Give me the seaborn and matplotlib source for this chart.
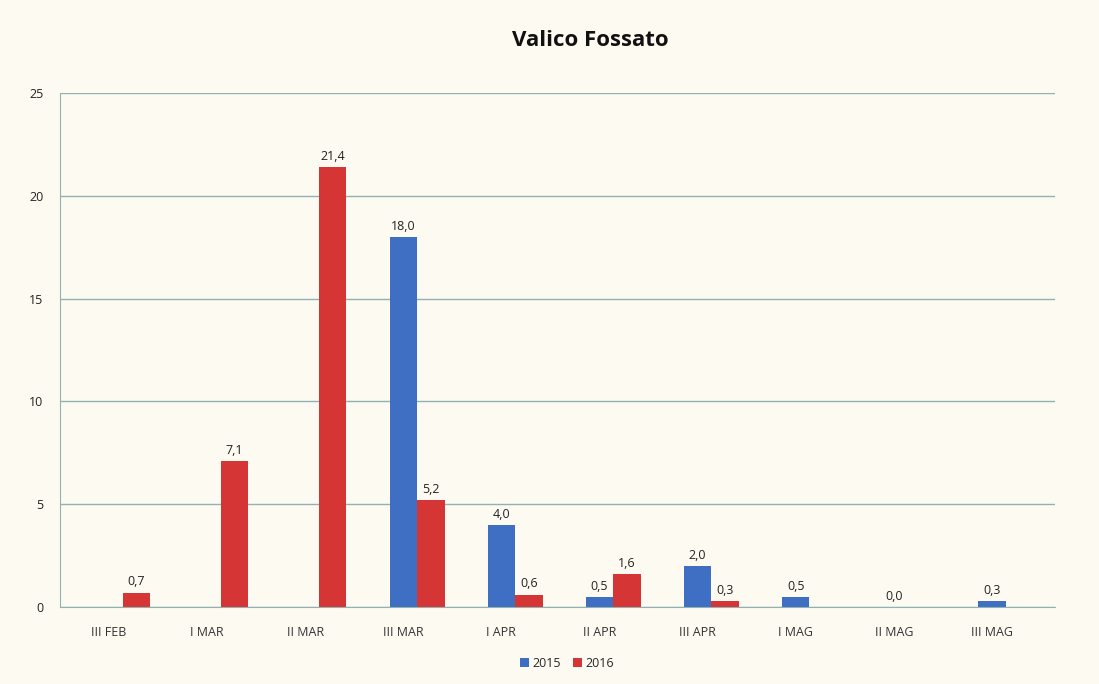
import numpy as np
import pandas as pd
import matplotlib.pyplot as plt
import seaborn as sns

# values
periods = ["III FEB", "I MAR", "II MAR", "III MAR", "I APR",
           "II APR", "III APR", "I MAG", "II MAG", "III MAG"]
v2015 = [np.nan, np.nan, np.nan, 18.0, 4.0, 0.5, 2.0, 0.5, 0.0, 0.3]
v2016 = [0.7, 7.1, 21.4, 5.2, 0.6, 1.6, 0.3, np.nan, np.nan, np.nan]
years = ["2015", "2016"]

df = pd.DataFrame({
    "periodo": periods * 2,
    "anno": [years[0]] * len(periods) + [years[1]] * len(periods),
    "valore": v2015 + v2016,
}).dropna()

BG = "#fdfbf1"
GRID = "#8fb3b0"
palette = {"2015": "#3f6fc2", "2016": "#d63535"}

sns.set_style("white")
plt.rcParams["font.family"] = ["Open Sans", "DejaVu Sans"]

fig = plt.figure(figsize=(10.99, 6.84), dpi=100, facecolor=BG)
ax = fig.add_axes([0.0546, 0.1126, 0.905, 0.7515])
ax.set_facecolor(BG)

sns.barplot(data=df, x="periodo", y="valore", hue="anno", order=periods,
            hue_order=years, palette=palette, width=0.56, saturation=1,
            edgecolor="none", ax=ax)

# value labels with comma decimals
for cont in ax.containers:
    ax.bar_label(cont, fmt=lambda v: f"{v:.1f}".replace(".", ","),
                 padding=3, fontsize=9, color="#222222")

ax.set_xlim(-0.64, 9.5)
ax.set_xticks(np.arange(len(periods)) - 0.14)
ax.set_xticklabels(periods)
ax.set_ylim(0, 25)
ax.set_yticks(range(0, 26, 5))
ax.yaxis.grid(True, color=GRID, lw=1)
ax.set_axisbelow(True)
ax.tick_params(axis="y", labelsize=9, colors="#222222", length=4, color=GRID,
               pad=8)
ax.tick_params(axis="x", labelsize=9, colors="#333333", length=0, pad=14)
ax.set_xlabel("")
ax.set_ylabel("")
for s in ["top", "right"]:
    ax.spines[s].set_visible(False)
for s in ["left", "bottom"]:
    ax.spines[s].set_color(GRID)

fig.text(590 / 1099, 1 - 40 / 684, "Valico Fossato", fontsize=16,
         fontweight="bold", ha="center", va="center", color="#111111")

ax.legend(loc="center", bbox_to_anchor=(0.51, -0.109), ncol=2,
          frameon=False, fontsize=9, handlelength=0.7, handleheight=0.7,
          columnspacing=1.0, handletextpad=0.3)

plt.savefig("out.png", dpi=100, facecolor=BG)
